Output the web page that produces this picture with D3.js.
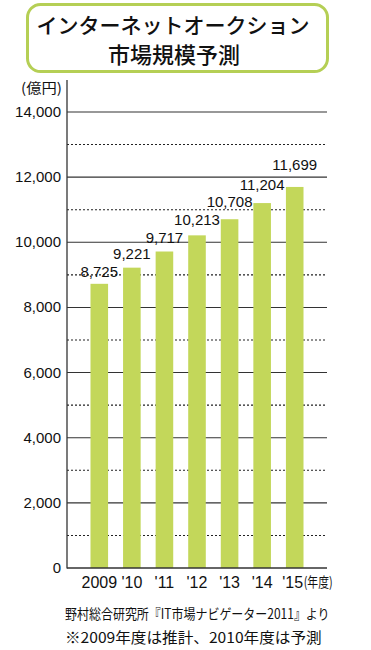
<!DOCTYPE html>
<html><head><meta charset="utf-8">
<script src="https://cdn.jsdelivr.net/npm/d3@7"></script>
<style>body{margin:0;background:#fff}svg{display:block}</style>
</head><body>
<script>
const categories = ["2009","'10","'11","'12","'13","'14","'15"];
const values = [8725, 9221, 9717, 10213, 10708, 11204, 11699];
const valueLabels = ["8,725","9,221","9,717","10,213","10,708","11,204","11,699"];
const tickValues = [0,2000,4000,6000,8000,10000,12000,14000];
const tickLabels = ["0","2,000","4,000","6,000","8,000","10,000","12,000","14,000"];
const minorTicks = [1000,3000,5000,7000,9000,11000,13000];
const titleLines = ["インターネットオークション","市場規模予測"];
const unitLabel = "(億円)";
const xUnit = "(年度)";
const notes = ["野村総合研究所『IT市場ナビゲーター2011』より","※2009年度は推計、2010年度は予測"];
// label gap above each bar (styling)
const labelGap = [7, 9, 9, 10, 12, 13, 17];

const W=371,H=650;
const svg=d3.select("body").append("svg").attr("width",W).attr("height",H);
const green="#c3d75a";
const numFont="'Liberation Sans Narrow','Liberation Sans',Arial,sans-serif";
const jpFont="'Noto Sans CJK JP',sans-serif";

// fit text to a given width by horizontal scaling
function fitText(sel, x0, y0, width, size, txt){
  const t = sel.append("text").attr("font-family",jpFont).attr("font-size",size).attr("fill","#111").text(txt);
  const w = t.node().getComputedTextLength();
  t.attr("transform",`translate(${x0},${y0}) scale(${width/w},1)`);
  return t;
}

// title box
svg.append("rect").attr("x",27.5).attr("y",4.5).attr("width",300).attr("height",67).attr("rx",13)
  .attr("fill","#fff").attr("stroke","#b5cf55").attr("stroke-width",3);
svg.append("text").attr("x",173).attr("y",33).attr("text-anchor","middle")
  .attr("font-family",jpFont).attr("font-size",21).attr("font-weight",500).attr("fill","#111").text(titleLines[0]);
svg.append("text").attr("x",174).attr("y",63).attr("text-anchor","middle")
  .attr("font-family",jpFont).attr("font-size",22).attr("font-weight",500).attr("fill","#111").text(titleLines[1]);

const x0=67,x1=327;
const y=d3.scaleLinear().domain([0,14000]).range([568,112]);
const x=d3.scaleBand().domain(categories).range([83,311]).paddingInner(0.46).paddingOuter(0.23);

const g=svg.append("g");
// grid
g.selectAll(".maj").data(tickValues.filter(d=>d>0)).join("line")
  .attr("x1",x0).attr("x2",x1).attr("y1",d=>y(d)).attr("y2",d=>y(d))
  .attr("stroke","#333").attr("stroke-width",1.1);
g.selectAll(".min").data(minorTicks).join("line")
  .attr("x1",x0).attr("x2",x1).attr("y1",d=>y(d)).attr("y2",d=>y(d))
  .attr("stroke","#222").attr("stroke-width",1.1).attr("stroke-dasharray","2,2");

// bars
g.selectAll(".bar").data(values).join("rect")
  .attr("x",(d,i)=>x(categories[i])).attr("width",x.bandwidth())
  .attr("y",d=>y(d)).attr("height",d=>y(0)-y(d)).attr("fill",green);

// value labels
g.selectAll(".vl").data(values).join("text")
  .attr("x",(d,i)=>x(categories[i])+x.bandwidth()/2).attr("y",(d,i)=>y(d)-labelGap[i])
  .attr("text-anchor","middle").attr("font-family",numFont).attr("font-size",15).attr("fill","#111")
  .text((d,i)=>valueLabels[i]);

// axes lines
svg.append("line").attr("x1",x0).attr("x2",x0).attr("y1",80).attr("y2",y(0)+0.5).attr("stroke","#333").attr("stroke-width",1.3);
svg.append("line").attr("x1",x0).attr("x2",x1).attr("y1",y(0)).attr("y2",y(0)).attr("stroke","#333").attr("stroke-width",1.3);

// y tick labels
svg.selectAll(".yt").data(tickValues).join("text")
  .attr("x",61).attr("y",d=>y(d)+5).attr("text-anchor","end")
  .attr("font-family",numFont).attr("font-size",15).attr("fill","#111")
  .text((d,i)=>tickLabels[i]);
fitText(svg, 21, 93, 41, 14, unitLabel);

// x labels
svg.selectAll(".xt").data(categories).join("text")
  .attr("x",(d,i)=>x(d)+x.bandwidth()/2 - (i===categories.length-1?2:0)).attr("y",588).attr("text-anchor","middle")
  .attr("font-family",numFont).attr("font-size",16).attr("fill","#111").text(d=>d);
const lastX=x(categories[categories.length-1])+x.bandwidth()/2;
fitText(svg, lastX+9, 587, 29, 14, xUnit);

// notes
fitText(svg, 65, 619, 265, 14, notes[0]);
fitText(svg, 65, 643, 257, 15, notes[1]);
</script>
</body></html>
